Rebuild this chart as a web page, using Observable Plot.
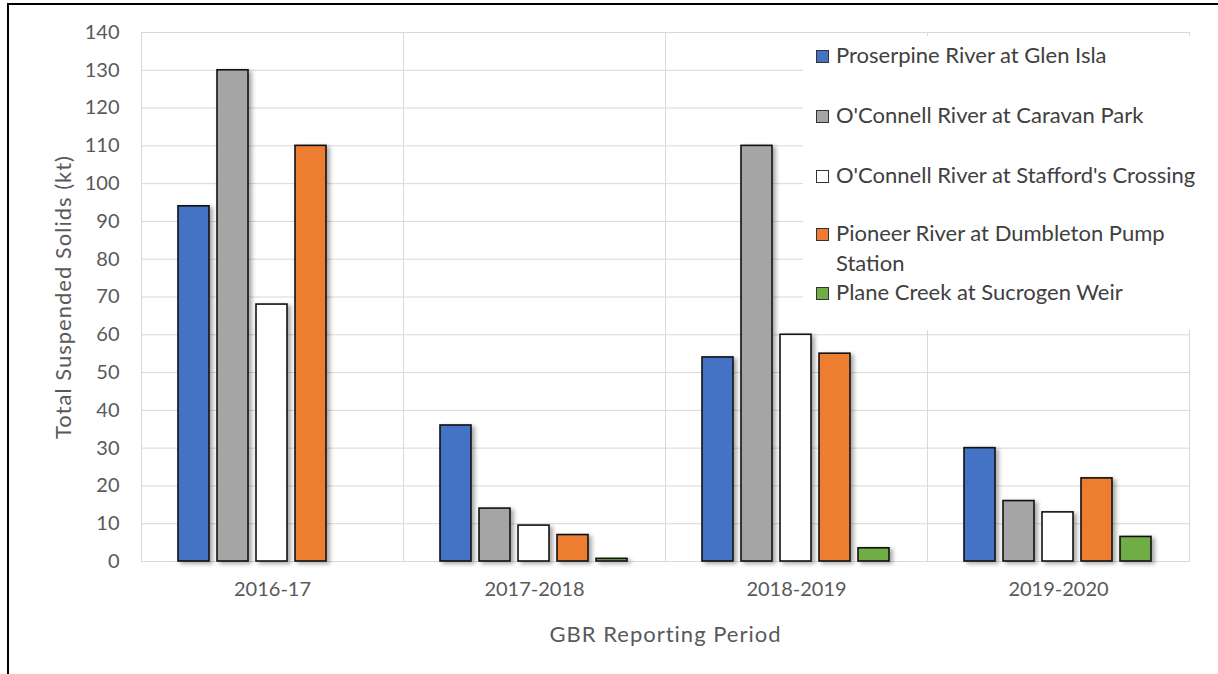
<!DOCTYPE html>
<html>
<head>
<meta charset="utf-8">
<script src="https://cdn.jsdelivr.net/npm/d3@7"></script>
<script src="https://cdn.jsdelivr.net/npm/@observablehq/plot@0.6"></script>
<style>
  html, body { margin: 0; padding: 0; background: #fff; }
  #wrap { position: relative; width: 1218px; height: 674px; overflow: hidden; font-family: Lato, "Open Sans", sans-serif; }
  #border { position: absolute; left: 7px; top: 3px; right: -10px; bottom: -10px; border-left: 2px solid #000; border-top: 2px solid #000; }
  #legend { position: absolute; left: 803px; top: 36px; width: 393px; height: 294px; background: #fff; }
  .entry { position: absolute; left: 13px; display: flex; align-items: flex-start; font-size: 22px; color: #404040; line-height: 30px; white-space: nowrap; }
  .entry.wrap { white-space: normal; }
  .entry.wrap span { max-width: 345px; }
  .swatch { width: 11px; height: 11px; border: 1px solid #333; margin-right: 7px; margin-top: 10px; flex: none; }
  svg .bars rect { filter: drop-shadow(3px 2px 2px rgba(0,0,0,0.35)); }
</style>
</head>
<body>
<div id="wrap">
  <div id="chart"></div>
  <div id="legend"></div>
  <div id="border"></div>
</div>
<script>
// Reporting periods and monitoring sites
const periods = ["2016-17", "2017-2018", "2018-2019", "2019-2020"];
const sites = [
  "Proserpine River at Glen Isla",
  "O'Connell River at Caravan Park",
  "O'Connell River at Stafford's Crossing",
  "Pioneer River at Dumbleton Pump Station",
  "Plane Creek at Sucrogen Weir"
];
const siteColors = ["#4472C4", "#A5A5A5", "#FFFFFF", "#ED7D31", "#70AD47"];

// Total suspended solids load (kt) per site, one value per period
const proserpine = [94, 36, 54, 30];
const caravanPark = [130, 14, 110, 16];
const staffords = [68, 9.5, 60, 13];
const pioneer = [110, 7, 55, 22];
const planeCreek = [null, 0.7, 3.5, 6.5];

const yTicks = [0, 10, 20, 30, 40, 50, 60, 70, 80, 90, 100, 110, 120, 130, 140];

const series = [proserpine, caravanPark, staffords, pioneer, planeCreek];
const rows = [];
series.forEach((vals, i) => {
  vals.forEach((v, j) => {
    if (v != null) rows.push({period: periods[j], site: sites[i], value: v});
  });
});

const chart = Plot.plot({
  width: 1218,
  height: 674,
  marginLeft: 140,
  marginRight: 28,
  marginTop: 32,
  marginBottom: 113,
  style: {fontFamily: "Lato, 'Open Sans', sans-serif", background: "transparent", color: "#595959"},
  fx: {domain: periods, padding: 0},
  x: {domain: sites, paddingInner: 0.2, paddingOuter: 0.88, axis: null},
  y: {domain: [0, 140]},
  color: {domain: sites, range: siteColors},
  marks: [
    Plot.frame({stroke: "#d9d9d9"}),
    Plot.gridY(yTicks, {stroke: "#d9d9d9", strokeOpacity: 1}),
    Plot.barY(rows, {fx: "period", x: "site", y: "value", fill: "site", stroke: "#111", strokeWidth: 1.6, className: "bars"}),
    Plot.axisY(yTicks, {tickSize: 0, tickPadding: 22, fontSize: 20, fill: "#595959",
      label: "Total Suspended Solids (kt)", labelAnchor: "center", labelArrow: "none", labelOffset: 86}),
    Plot.axisFx({anchor: "bottom", tickSize: 0, tickPadding: 20, fontSize: 20, fill: "#595959",
      label: "GBR Reporting Period", labelAnchor: "center", labelArrow: "none", labelOffset: 80})
  ]
});
document.getElementById("chart").appendChild(chart);

// Axis titles are set a little larger than the tick labels
chart.querySelectorAll("g[aria-label]").forEach(g => {
  const name = g.getAttribute("aria-label");
  if (/axis label$/.test(name)) {
    g.setAttribute("font-size", "22");
    g.querySelectorAll("text").forEach(t => {
      t.setAttribute("font-size", "22");
      t.setAttribute("letter-spacing", "1");
    });
  }
});

// Legend entries stacked in the top-right corner of the plot
const legendTops = [4, 64, 124, 182, 241];
const legend = document.getElementById("legend");
sites.forEach((s, i) => {
  const e = document.createElement("div");
  e.className = i === 3 ? "entry wrap" : "entry";
  e.style.top = legendTops[i] + "px";
  const sw = document.createElement("div");
  sw.className = "swatch";
  sw.style.background = siteColors[i];
  const label = document.createElement("span");
  label.textContent = s;
  e.appendChild(sw);
  e.appendChild(label);
  legend.appendChild(e);
});
</script>
</body>
</html>
